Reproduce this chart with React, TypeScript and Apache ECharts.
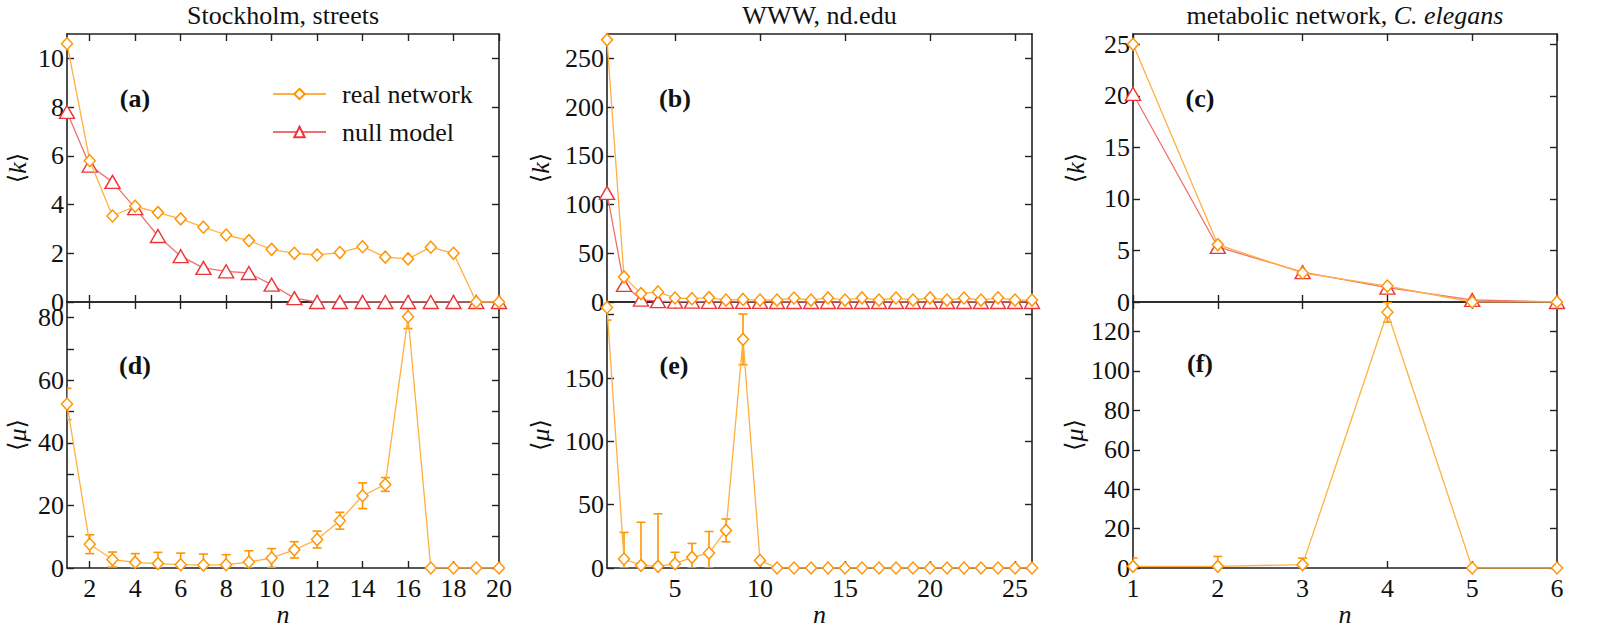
import React, { useEffect, useRef } from 'react';
import * as echarts from 'echarts';

// ---------- data ----------
const nStockholm = [1, 2, 3, 4, 5, 6, 7, 8, 9, 10, 11, 12, 13, 14, 15, 16, 17, 18, 19, 20];
const kRealStockholm = [10.6, 5.8, 3.53, 3.93, 3.67, 3.41, 3.07, 2.75, 2.52, 2.16, 2.0, 1.93, 2.03, 2.27, 1.84, 1.77, 2.25, 2.0, 0, 0];
const kNullStockholm = [7.8, 5.6, 4.93, 3.85, 2.71, 1.88, 1.4, 1.26, 1.19, 0.71, 0.16, 0, 0, 0, 0, 0, 0, 0, 0, 0];
const muStockholm = [52.4, 7.6, 2.7, 1.8, 1.4, 1.06, 0.95, 1.06, 1.9, 3.2, 5.8, 9.1, 15.1, 23.1, 26.7, 80.3, 0, 0, 0, 0];
const muErrStockholm = [5, 3, 2.4, 2.8, 3.6, 3.7, 3.5, 3.2, 3.6, 3, 2.6, 2.7, 2.7, 4.1, 2.2, 3.8, 0, 0, 0, 0];

const nWWW = [1, 2, 3, 4, 5, 6, 7, 8, 9, 10, 11, 12, 13, 14, 15, 16, 17, 18, 19, 20, 21, 22, 23, 24, 25, 26];
const kRealWWW = [269, 25.8, 8.6, 10.3, 4.1, 3.4, 4.5, 2.0, 2.6, 2.0, 2.0, 4.1, 2.0, 4.2, 2.0, 4.2, 2.0, 4.1, 2.0, 4.2, 2.0, 4.1, 2.0, 4.3, 2.0, 2.0];
const kNullWWW = [112, 17.5, 2.5, 0.8, 0.4, 0.3, 0.2, 0.2, 0.1, 0.1, 0, 0, 0, 0, 0, 0, 0, 0, 0, 0, 0, 0, 0, 0, 0, 0];
const muWWW = [205.7, 7.1, 2.1, 1.3, 3.4, 8.4, 11.8, 29.7, 180.5, 6, 0, 0, 0, 0, 0, 0, 0, 0, 0, 0, 0, 0, 0, 0, 0, 0];
const muErrWWW = [10, 21, 34, 41.5, 9, 11, 17, 9, 20, 0, 0, 0, 0, 0, 0, 0, 0, 0, 0, 0, 0, 0, 0, 0, 0, 0];

const nMetabolic = [1, 2, 3, 4, 5, 6];
const kRealMetabolic = [25, 5.57, 2.82, 1.55, 0, 0];
const kNullMetabolic = [20.2, 5.34, 2.9, 1.39, 0.2, 0];
const muMetabolic = [0.85, 0.85, 1.7, 129.8, 0, 0];
const muErrMetabolic = [4.2, 5, 3.3, 5, 0, 0];

// tick values
const xTicksStockholm = [2, 4, 6, 8, 10, 12, 14, 16, 18, 20];
const xTicksWWW = [5, 10, 15, 20, 25];
const xTicksMetabolic = [1, 2, 3, 4, 5, 6];
const kTicksStockholm = [0, 2, 4, 6, 8, 10];
const muTicksStockholm = [0, 10, 20, 30, 40, 50, 60, 70, 80];
const muLabelsStockholm = [0, 20, 40, 60, 80];
const kTicksWWW = [0, 50, 100, 150, 200, 250];
const muTicksWWW = [0, 50, 100, 150, 200];
const muLabelsWWW = [0, 50, 100, 150];
const kTicksMetabolic = [0, 5, 10, 15, 20, 25];
const muTicksMetabolic = [0, 20, 40, 60, 80, 100, 120];

const titles = ['Stockholm, streets', 'WWW, nd.edu', 'metabolic network, '];
const titleItalic = 'C. elegans';
const panelLabels = ['(a)', '(d)', '(b)', '(e)', '(c)', '(f)'];

// ---------- style ----------
const FONT = 'Liberation Serif';
const INK = '#111';
const AXIS = '#222';
const REAL_MARK = '#ff9500';
const REAL_LINE = '#ffb040';
const NULL_MARK = '#ee3535';
const NULL_LINE = '#f07070';
const FS = 26;

type Spec = {
  rect: { left: number; top: number; width: number; height: number };
  n: number[];
  xMax: number;
  xTicks: number[];
  xLabels: boolean;
  yMax: number;
  yTicks: number[];
  yLabels: number[];
  yName: string;
  yNameGap: number;
  real: number[];
  nul?: number[];
  err?: number[];
  label: string;
  labelPos: [number, number];
};

const COLS = [
  { left: 67, width: 432 },
  { left: 607, width: 425 },
  { left: 1133, width: 424 },
];
const TOP_ROW = { top: 34, height: 268 };
const BOT_ROW = { top: 302, height: 266 };

const specs: Spec[] = [
  {
    rect: { ...COLS[0], ...TOP_ROW }, n: nStockholm, xMax: 20, xTicks: xTicksStockholm, xLabels: false,
    yMax: 11, yTicks: kTicksStockholm, yLabels: kTicksStockholm, yName: 'k', yNameGap: 37,
    real: kRealStockholm, nul: kNullStockholm, label: panelLabels[0], labelPos: [135, 98],
  },
  {
    rect: { ...COLS[0], ...BOT_ROW }, n: nStockholm, xMax: 20, xTicks: xTicksStockholm, xLabels: true,
    yMax: 85, yTicks: muTicksStockholm, yLabels: muLabelsStockholm, yName: 'μ', yNameGap: 37,
    real: muStockholm, err: muErrStockholm, label: panelLabels[1], labelPos: [135, 365],
  },
  {
    rect: { ...COLS[1], ...TOP_ROW }, n: nWWW, xMax: 26, xTicks: xTicksWWW, xLabels: false,
    yMax: 275, yTicks: kTicksWWW, yLabels: kTicksWWW, yName: 'k', yNameGap: 54,
    real: kRealWWW, nul: kNullWWW, label: panelLabels[2], labelPos: [675, 98],
  },
  {
    rect: { ...COLS[1], ...BOT_ROW }, n: nWWW, xMax: 26, xTicks: xTicksWWW, xLabels: true,
    yMax: 210, yTicks: muTicksWWW, yLabels: muLabelsWWW, yName: 'μ', yNameGap: 54,
    real: muWWW, err: muErrWWW, label: panelLabels[3], labelPos: [674, 365],
  },
  {
    rect: { ...COLS[2], ...TOP_ROW }, n: nMetabolic, xMax: 6, xTicks: xTicksMetabolic, xLabels: false,
    yMax: 26, yTicks: kTicksMetabolic, yLabels: kTicksMetabolic, yName: 'k', yNameGap: 45,
    real: kRealMetabolic, nul: kNullMetabolic, label: panelLabels[4], labelPos: [1200, 98],
  },
  {
    rect: { ...COLS[2], ...BOT_ROW }, n: nMetabolic, xMax: 6, xTicks: xTicksMetabolic, xLabels: true,
    yMax: 135, yTicks: muTicksMetabolic, yLabels: muTicksMetabolic, yName: 'μ', yNameGap: 45,
    real: muMetabolic, err: muErrMetabolic, label: panelLabels[5], labelPos: [1200, 363],
  },
];

const axisLine = { show: true, onZero: false, lineStyle: { color: AXIS, width: 1.6 } };
const tickStyle = { color: AXIS, width: 1.4 };
const labelStyle = { fontFamily: FONT, fontSize: FS, color: INK };

function buildOption() {
  const grid: any[] = [];
  const xAxis: any[] = [];
  const yAxis: any[] = [];
  const series: any[] = [];
  const graphic: any[] = [];

  specs.forEach((s, i) => {
    grid.push({ ...s.rect });
    xAxis.push({
      type: 'value', gridIndex: i, position: 'bottom', min: 1, max: s.xMax,
      axisLine,
      axisTick: { show: true, inside: true, length: 7, customValues: s.xTicks, lineStyle: tickStyle },
      axisLabel: { show: s.xLabels, customValues: s.xTicks, margin: 7, ...labelStyle },
      splitLine: { show: false },
      name: s.xLabels ? 'n' : '', nameLocation: 'middle', nameGap: 32,
      nameTextStyle: { fontFamily: FONT, fontSize: FS, fontStyle: 'italic', color: INK },
    });
    xAxis.push({
      type: 'value', gridIndex: i, position: 'top', min: 1, max: s.xMax,
      axisLine,
      axisTick: { show: true, inside: true, length: 7, customValues: s.xTicks, lineStyle: tickStyle },
      axisLabel: { show: false },
      splitLine: { show: false },
    });
    yAxis.push({
      type: 'value', gridIndex: i, position: 'left', min: 0, max: s.yMax,
      axisLine,
      axisTick: { show: true, inside: true, length: 7, customValues: s.yTicks, lineStyle: tickStyle },
      axisLabel: { show: true, customValues: s.yLabels, margin: 3, lineHeight: 14, ...labelStyle },
      splitLine: { show: false },
      name: '{b|⟨}{i|' + s.yName + '}{b|⟩}', nameLocation: 'middle', nameGap: s.yNameGap,
      nameTextStyle: {
        fontFamily: FONT, fontSize: FS, color: INK,
        rich: {
          b: { fontFamily: 'DejaVu Serif', fontSize: FS - 2, color: INK },
          i: { fontFamily: FONT, fontSize: FS, fontStyle: 'italic', color: INK },
        },
      },
    });
    yAxis.push({
      type: 'value', gridIndex: i, position: 'right', min: 0, max: s.yMax,
      axisLine,
      axisTick: { show: true, inside: true, length: 7, customValues: s.yTicks, lineStyle: tickStyle },
      axisLabel: { show: false },
      splitLine: { show: false },
    });

    if (s.err) {
      const errData = s.n
        .map((x, j) => [x, Math.max(0, s.real[j] - s.err![j]), s.real[j] + s.err![j], s.err![j]])
        .filter((d) => d[3] > 0);
      series.push({
        type: 'custom', xAxisIndex: 2 * i, yAxisIndex: 2 * i, z: 1, clip: true,
        data: errData,
        renderItem: (_p: any, api: any) => {
          const x = api.value(0);
          const lo = api.coord([x, api.value(1)]);
          const hi = api.coord([x, api.value(2)]);
          const w = 4.5;
          const st = { stroke: REAL_MARK, lineWidth: 1.6 };
          return {
            type: 'group',
            children: [
              { type: 'line', shape: { x1: lo[0], y1: lo[1], x2: hi[0], y2: hi[1] }, style: st },
              { type: 'line', shape: { x1: lo[0] - w, y1: lo[1], x2: lo[0] + w, y2: lo[1] }, style: st },
              { type: 'line', shape: { x1: hi[0] - w, y1: hi[1], x2: hi[0] + w, y2: hi[1] }, style: st },
            ],
          };
        },
      });
    }
    if (s.nul) {
      series.push({
        name: 'null model', type: 'line', xAxisIndex: 2 * i, yAxisIndex: 2 * i, z: 2,
        data: s.n.map((x, j) => [x, s.nul![j]]),
        symbol: 'triangle', symbolSize: [15, 13], showAllSymbol: true,
        itemStyle: { color: '#fff', borderColor: NULL_MARK, borderWidth: 1.4 },
        lineStyle: { color: NULL_LINE, width: 1.3 },
      });
    }
    series.push({
      name: 'real network', type: 'line', xAxisIndex: 2 * i, yAxisIndex: 2 * i, z: 3,
      data: s.n.map((x, j) => [x, s.real[j]]),
      symbol: 'diamond', symbolSize: [11, 12], showAllSymbol: true,
      itemStyle: { color: '#fff', borderColor: REAL_MARK, borderWidth: 1.5 },
      lineStyle: { color: REAL_LINE, width: 1.3 },
    });

    graphic.push({
      type: 'text', x: s.labelPos[0], y: s.labelPos[1], z: 10,
      style: {
        text: s.label, fill: INK, align: 'center', verticalAlign: 'middle',
        font: 'bold ' + FS + 'px ' + FONT,
      },
    });
  });

  // titles
  const centers = COLS.map((c) => c.left + c.width / 2);
  graphic.push({
    type: 'text', x: centers[0], y: 15,
    style: { text: titles[0], fill: INK, align: 'center', verticalAlign: 'middle', font: FS + 'px ' + FONT },
  });
  graphic.push({
    type: 'text', x: centers[1], y: 15,
    style: { text: titles[1], fill: INK, align: 'center', verticalAlign: 'middle', font: FS + 'px ' + FONT },
  });
  graphic.push({
    type: 'text', x: centers[2], y: 15,
    style: {
      text: '{r|' + titles[2] + '}{i|' + titleItalic + '}', fill: INK, align: 'center', verticalAlign: 'middle',
      font: FS + 'px ' + FONT,
      rich: {
        r: { fontFamily: FONT, fontSize: FS, fill: INK, color: INK },
        i: { fontFamily: FONT, fontSize: FS, fontStyle: 'italic', fill: INK, color: INK },
      },
    },
  });

  return {
    animation: false,
    backgroundColor: '#fff',
    grid, xAxis, yAxis, series, graphic,
    legend: {
      data: ['real network', 'null model'],
      orient: 'vertical', left: 267, top: 76,
      itemWidth: 53, itemHeight: 13, itemGap: 12,
      textStyle: { fontFamily: FONT, fontSize: FS, color: INK, padding: [0, 0, 0, 11] },
    },
  };
}

export default function App() {
  const ref = useRef<HTMLDivElement>(null);
  useEffect(() => {
    if (!ref.current) return;
    const chart = echarts.init(ref.current, null, { renderer: 'svg' });
    chart.setOption(buildOption() as any);
    return () => chart.dispose();
  }, []);
  return (
    <div
      ref={ref}
      style={{ position: 'absolute', left: 0, top: 0, width: 1599, height: 634, background: '#fff' }}
    />
  );
}
